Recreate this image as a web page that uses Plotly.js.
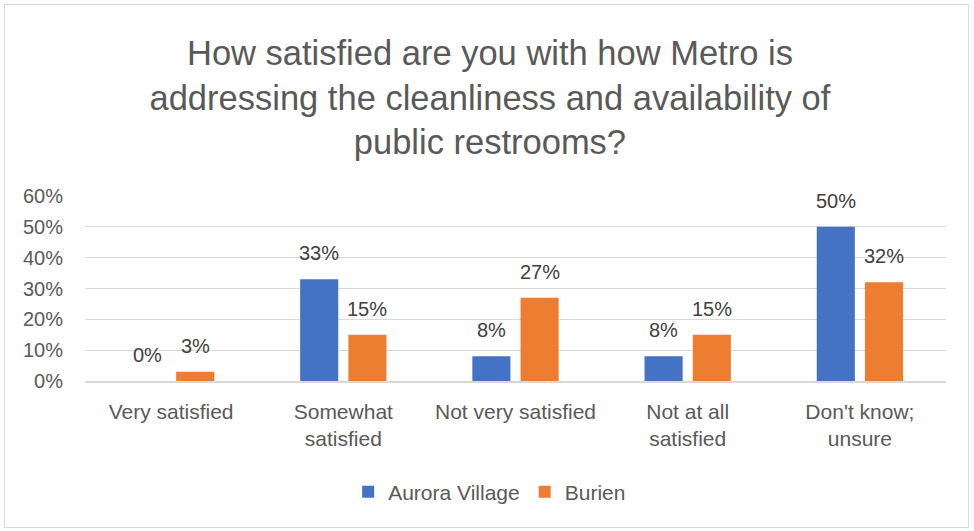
<!DOCTYPE html>
<html>
<head>
<meta charset="utf-8">
<script src="https://cdn.plot.ly/plotly-3.0.1.min.js"></script>
<style>
html,body{margin:0;padding:0;background:#fff;}
#chart{position:absolute;left:0;top:0;width:974px;height:531px;}
#frame{position:absolute;left:4px;top:4px;width:965px;height:524px;border:1px solid #d9d9d9;box-sizing:border-box;pointer-events:none;}
</style>
</head>
<body>
<div id="chart"></div>
<div id="frame"></div>
<script>
const categories = ["Very satisfied", "Somewhat<br>satisfied", "Not very satisfied", "Not at all<br>satisfied", "Don't know;<br>unsure"];
const auroraVillage = [0, 33, 8, 8, 50];
const burien = [3, 15, 27, 15, 32];
const yTicks = [0, 10, 20, 30, 40, 50, 60];

const font = "Liberation Sans, Arial, sans-serif";
function barTrace(name, values, color) {
  return {type: "bar", name: name, x: categories, y: values,
    marker: {color: color}, hoverinfo: "none"};
}
const traces = [
  barTrace("Aurora Village", auroraVillage, "#4472C4"),
  barTrace("Burien", burien, "#ED7D31")
];
function labels(values, shift) {
  return values.map((v, i) => ({
    x: categories[i], y: v, xref: "x", yref: "y", text: v + "%", showarrow: false,
    xshift: shift, yshift: 26, xanchor: "center", yanchor: "middle",
    font: {size: 20, color: "#404040", family: font}
  }));
}
const layout = {
  width: 974, height: 531,
  margin: {l: 85, r: 28, t: 196, b: 150},
  paper_bgcolor: "#fff", plot_bgcolor: "#fff",
  font: {family: font, color: "#595959", size: 20},
  title: {text: "How satisfied are you with how Metro is<br>addressing the cleanliness and availability of<br>public restrooms?",
          font: {size: 34.5, color: "#595959", family: font}, x: 0.503, xanchor: "center",
          y: 0.878, yanchor: "middle"},
  bargap: 0.44, bargroupgap: 0.21, barmode: "group",
  xaxis: {tickfont: {size: 21, color: "#595959"}, showline: true, linecolor: "#d9d9d9", linewidth: 1.5,
          ticks: "", ticklabelstandoff: 11, fixedrange: true},
  yaxis: {range: [0, 60], tickvals: yTicks, ticktext: yTicks.map(v => v + "%"),
          showgrid: true, gridcolor: "#d9d9d9", gridwidth: 1, zeroline: false, showline: false,
          ticks: "outside", ticklen: 17, tickcolor: "rgba(0,0,0,0)",
          tickfont: {size: 20, color: "#595959"}, fixedrange: true},
  annotations: labels(auroraVillage, -24).concat(labels(burien, 24)),
  showlegend: true,
  legend: {orientation: "h", x: 0.47, xanchor: "center", y: -0.60, yanchor: "middle",
           font: {size: 21, color: "#595959"}, itemwidth: 30, traceorder: "normal"}
};
Plotly.newPlot("chart", traces, layout, {displayModeBar: false, staticPlot: true});
</script>
</body>
</html>
